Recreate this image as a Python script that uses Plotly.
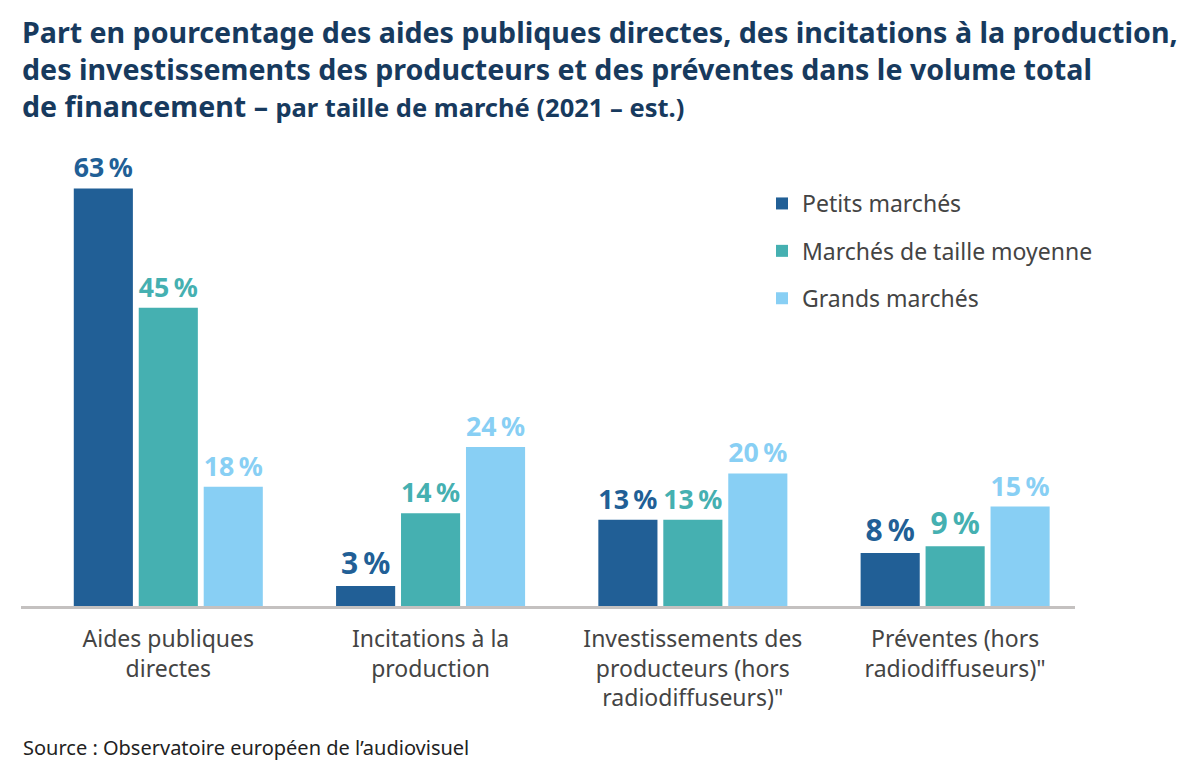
import plotly.graph_objects as go

categories = [
    "Aides publiques<br>directes",
    "Incitations à la<br>production",
    "Investissements des<br>producteurs (hors<br>radiodiffuseurs)\"",
    "Préventes (hors<br>radiodiffuseurs)\"",
]
series_names = ["Petits marchés", "Marchés de taille moyenne", "Grands marchés"]
petits = [63, 3, 13, 8]
moyens = [45, 14, 13, 9]
grands = [18, 24, 20, 15]

colors = ["#215f96", "#45b0b1", "#88cff4"]
series_values = [petits, moyens, grands]

W, H = 1200, 780
OFF = 8  # page body margin
L, R = 21 - OFF, 1075 - OFF
TOP, BASE = 142 - OFF, 606 - OFF
PH = BASE - TOP


def py(ypix):
    """reference pixel y -> paper y"""
    return (BASE - (ypix - OFF)) / PH


def px(xpix):
    return ((xpix - OFF) - L) / (R - L)


fig = go.Figure()
for name, vals, col in zip(series_names, series_values, colors):
    fig.add_trace(go.Bar(
        x=categories, y=vals, name=name,
        marker=dict(color=col, line=dict(width=0)),
        text=[f"{v}\u202f%" for v in vals],
        textposition="outside",
        textfont=dict(family="Noto Sans", size=30, color=col, weight="bold"),
        cliponaxis=False,
        legendgroup=name,
        hoverinfo="skip",
    ))

title_font = dict(family="Noto Sans", size=28.6, color="#173a5e", weight="bold")
title_lines = [
    "Part en pourcentage des aides publiques directes, des incitations à la production,",
    "des investissements des producteurs et des préventes dans le volume total",
    "de financement – <span style='font-size:25.5px'>par taille de marché (2021 – est.)</span>",
]
title_y = [31, 69, 106]

annotations = []
for t, yy in zip(title_lines, title_y):
    annotations.append(dict(
        text=t, xref="paper", yref="paper", x=px(20), y=py(yy),
        xanchor="left", yanchor="middle", showarrow=False, font=title_font,
    ))
annotations.append(dict(
    text="Source : Observatoire européen de l’audiovisuel",
    xref="paper", yref="paper", x=px(21), y=py(747),
    xanchor="left", yanchor="middle", showarrow=False,
    font=dict(family="Noto Sans", size=20, color="#222222"),
))

fig.update_layout(
    width=W, height=H,
    paper_bgcolor="white", plot_bgcolor="white",
    margin=dict(l=L, r=W - R, t=TOP, b=H - BASE),
    barmode="group",
    bargap=0.257,
    bargroupgap=0.09,
    showlegend=True,
    legend=dict(
        x=px(762), xanchor="left", y=py(182), yanchor="top",
        font=dict(family="Noto Sans", size=23, color="#444444"),
        tracegroupgap=14.5,
        bgcolor="rgba(0,0,0,0)",
    ),
    xaxis=dict(
        range=[-0.5616, 3.457],
        showline=True, linecolor="#c4c1c0", linewidth=3,
        showgrid=False, ticks="", ticklabelstandoff=10,
        tickfont=dict(family="Noto Sans", size=23, color="#444444"),
        fixedrange=True,
    ),
    yaxis=dict(
        range=[0, 70], visible=False, showgrid=False, zeroline=False,
        fixedrange=True,
    ),
    annotations=annotations,
)

fig.write_html("out.html")
